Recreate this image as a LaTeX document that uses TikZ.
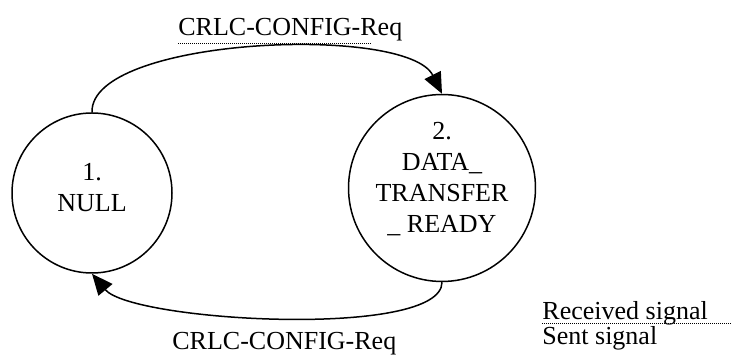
\documentclass[tikz,border=0pt]{standalone}
\usepackage{fontspec}
\setmainfont{Liberation Serif}
\usepackage{tikz}
\usetikzlibrary{arrows.meta,positioning}

\tikzset{
  state/.style={shape=circle,draw=black,line width=0.75pt,minimum size=80pt,inner sep=0pt,align=center},
  sig/.style={line width=0.75pt,-{Triangle[length=10.5pt,width=9pt]}},
  dotline/.style={line width=0.5pt,dash pattern=on 0.5pt off 0.5pt}
}

\begin{document}
\begin{tikzpicture}[x=0.5pt,y=-0.5pt,font=\fontsize{13pt}{15.5pt}\selectfont]
        \useasboundingbox (0,0) rectangle (731,356);

        \node (s1) at (92,193) [state,text depth=6pt] {1.\\NULL};
        \node (s2) at (442,188) [state,text depth=11pt] {2.\\DATA\_\\TRANSFER\\\_ READY};

        \draw[sig] (s1.north) .. controls +(-2,-75) and +(-35,-70) .. (s2.north);
        \draw[sig] (s2.south) .. controls +(0,57) and +(40,48) .. (s1.south);

        \node (req1) at (178,36) [anchor=base west,inner sep=0pt] {CRLC-CONFIG-Req};
        \node (req2) at (172,350) [anchor=base west,inner sep=0pt] {CRLC-CONFIG-Req};
        \draw[dotline] (req1.base west) ++(0,7.5) -- ++(194,0);

        \node (recv) at (542,320) [anchor=base west,inner sep=0pt] {Received signal};
        \node (sent) at (542,345) [anchor=base west,inner sep=0pt] {Sent signal};
        \draw[dotline] (recv.base west) ++(0,4) -- ++(189,0);
    \end{tikzpicture}
\end{document}
